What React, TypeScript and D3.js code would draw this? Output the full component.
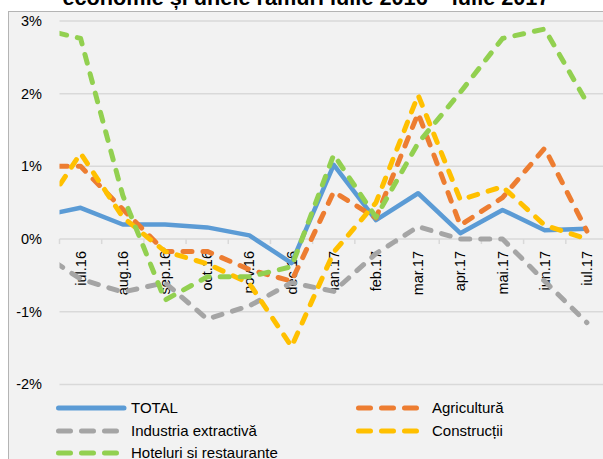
import React from 'react';
import * as d3 from 'd3';

// categories shown on the axis
const months = ['iul.16', 'aug.16', 'sep.16', 'oct.16', 'nov.16', 'dec.16', 'ian.17', 'feb.17', 'mar.17', 'apr.17', 'mai.17', 'iun.17', 'iul.17'];
// first value of every series is iun.16, only its last bit shows at the left edge of the plot
const total = [0.31, 0.43, 0.2, 0.2, 0.16, 0.05, -0.33, 1.02, 0.26, 0.63, 0.08, 0.4, 0.12, 0.14];
const agricultura = [1.0, 1.0, 0.41, -0.17, -0.17, -0.42, -0.58, 0.65, 0.29, 1.73, 0.19, 0.57, 1.25, 0.11];
const industria = [-0.17, -0.55, -0.73, -0.6, -1.1, -0.92, -0.6, -0.72, -0.2, 0.17, 0.0, 0.0, -0.58, -1.15];
const constructii = [0.3, 1.18, 0.3, -0.17, -0.34, -0.61, -1.48, -0.18, 0.5, 1.98, 0.54, 0.72, 0.19, 0.0];
const hoteluri = [2.9, 2.76, 0.6, -0.84, -0.52, -0.52, -0.38, 1.16, 0.3, 1.32, 2.02, 2.76, 2.89, 1.88];
const yTicks = [3, 2, 1, 0, -1, -2];

const series = [
  { name: 'TOTAL', values: total, color: '#5b9bd5', dashed: false },
  { name: 'Agricultură', values: agricultura, color: '#ed7d31', dashed: true },
  { name: 'Industria extractivă', values: industria, color: '#a5a5a5', dashed: true },
  { name: 'Construcții', values: constructii, color: '#ffc000', dashed: true },
  { name: 'Hoteluri si restaurante', values: hoteluri, color: '#92d050', dashed: true },
];

const W = 603;
const H = 459;
const font = "'Liberation Sans', Arial, sans-serif";

const App = () => {
  const left = 59.5;
  const right = 608;
  const x = d3.scaleBand().domain(months).range([left, right]);
  const step = x.step();
  // index 0 = iun.16 (one step before the first axis category)
  const xi = (i: number) => (x(months[0]) as number) + step / 2 + (i - 1) * step;
  const y = d3.scaleLinear().domain([-2, 3]).range([384.4, 21]);

  const line = d3
    .line<number>()
    .x((d, i) => xi(i))
    .y(d => y(d));

  const legend = [
    { s: series[0], lx: 56, tx: 131, ly: 408 },
    { s: series[1], lx: 356, tx: 432, ly: 408 },
    { s: series[2], lx: 56, tx: 131, ly: 431 },
    { s: series[3], lx: 356, tx: 432, ly: 431 },
    { s: series[4], lx: 56, tx: 131, ly: 453 },
  ];

  const tickPos = d3.range(months.length + 1).map(i => left + i * step);

  return (
    <svg width={W} height={H} style={{ position: 'absolute', left: 0, top: 0 }} fontFamily={font}>
      <defs>
        <clipPath id="plot">
          <rect x={left} y={0} width={right - left + 5} height={H} />
        </clipPath>
      </defs>
      <rect x={0} y={0} width={W} height={H} fill="#ffffff" />
      <rect x={8.5} y={11.5} width={W + 20} height={H + 20} fill="#f2f2f2" stroke="#b4b4b4" />
      <text x={306} y={5} textAnchor="middle" fontWeight="bold" fontSize={21.7} fill="#000">
        economie și unele ramuri iulie 2016 – iulie 2017
      </text>

      {yTicks.map(t => (
        <g key={t}>
          <line x1={left} x2={right} y1={y(t)} y2={y(t)} stroke="#d9d9d9" strokeWidth={1.5} />
          <text x={42} y={y(t)} dy="0.35em" textAnchor="end" fontSize={14.5} fill="#000">
            {t}%
          </text>
        </g>
      ))}
      {tickPos.map((p, i) => (
        <line key={i} x1={p} x2={p} y1={y(0)} y2={y(0) + 5} stroke="#d9d9d9" strokeWidth={1.5} />
      ))}
      {months.map(m => {
        const cx = (x(m) as number) + step / 2;
        return (
          <text
            key={m}
            transform={`translate(${cx},251) rotate(-90)`}
            textAnchor="end"
            dy="0.35em"
            fontSize={14.5}
            fill="#000"
          >
            {m}
          </text>
        );
      })}

      <g clipPath="url(#plot)">
        {series.map(s => (
          <path
            key={s.name}
            d={line(s.values) as string}
            fill="none"
            stroke={s.color}
            strokeWidth={s.dashed ? 5 : 4.5}
            strokeLinecap={s.dashed ? 'round' : 'butt'}
            strokeLinejoin="round"
            strokeDasharray={s.dashed ? '9 11' : undefined}
          />
        ))}
      </g>

      {legend.map(l => (
        <g key={l.s.name}>
          <line
            x1={l.lx + 2.5}
            x2={l.lx + 68}
            y1={l.ly}
            y2={l.ly}
            stroke={l.s.color}
            strokeWidth={5}
            strokeLinecap="round"
            strokeDasharray={l.s.dashed ? '12 11' : undefined}
          />
          <text x={l.tx} y={l.ly} dy="0.35em" fontSize={15} fill="#000">
            {l.s.name}
          </text>
        </g>
      ))}
    </svg>
  );
};

export default App;
